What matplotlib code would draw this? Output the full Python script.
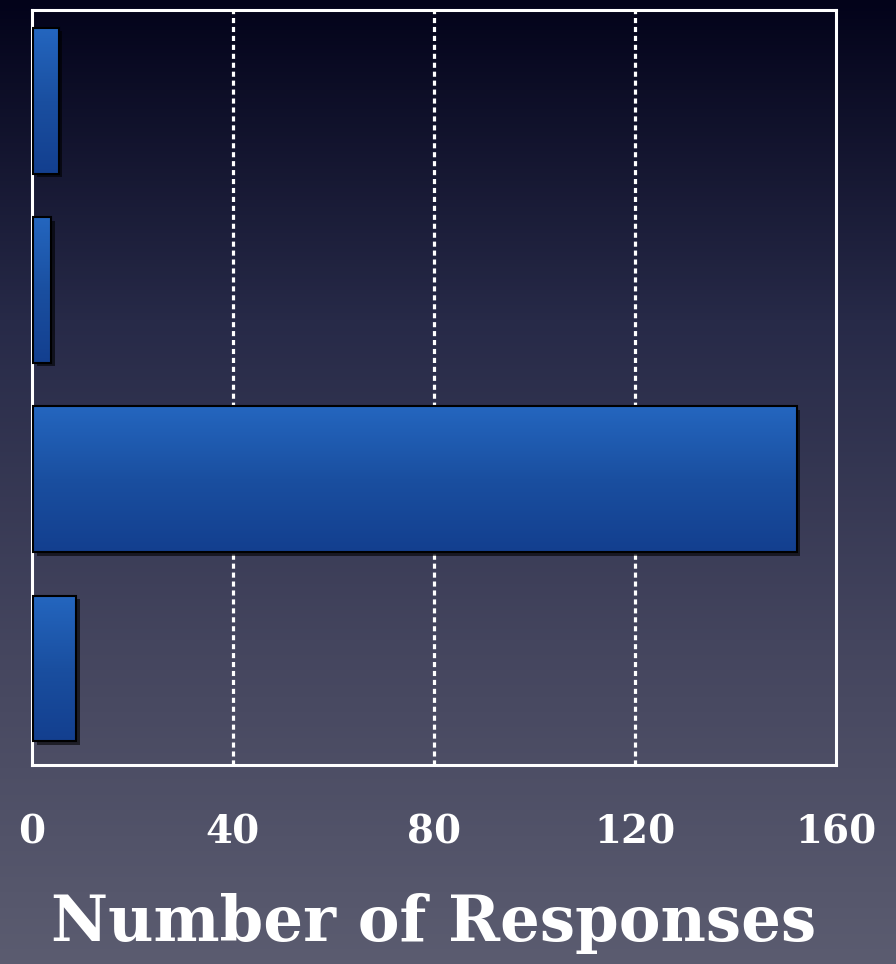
import numpy as np
import matplotlib
matplotlib.use("Agg")
import matplotlib.pyplot as plt
from matplotlib import patheffects as pe
from matplotlib.colors import LinearSegmentedColormap

# data (top to bottom)
categories = ["A", "B", "C", "D"]
responses = [5, 3.5, 152, 8.5]
xticks = [0, 40, 80, 120, 160]
xlabel = "Number of Responses"

font = "DejaVu Serif"

fig = plt.figure(figsize=(8.96, 9.64), dpi=100)

# background gradient over the whole figure
bg = fig.add_axes([0, 0, 1, 1], zorder=-10)
bg_cmap = LinearSegmentedColormap.from_list("bg", ["#03031a", "#272a48", "#44455e", "#5b5c70"])
bg.imshow(np.linspace(0, 1, 256).reshape(-1, 1), cmap=bg_cmap, aspect="auto",
          extent=[0, 1, 0, 1], origin="upper")
bg.set_axis_off()

ax = fig.add_axes([0.0357, 0.2064, 0.897, 0.7833])
ax.patch.set_alpha(0)

ypos = np.arange(len(categories))
bar_cmap = LinearSegmentedColormap.from_list("bar", ["#2466bf", "#1a4fa0", "#133f8f"])

shadow = [pe.SimplePatchShadow(offset=(2.5, -2.5), shadow_rgbFace="black", alpha=0.6), pe.Normal()]
bars = ax.barh(ypos, responses, left=0.3, height=0.77, color="#1c52a5", edgecolor="none",
               zorder=3, path_effects=shadow)

# gradient fill inside each bar
for b in bars:
    x0, y0 = b.get_x(), b.get_y()
    w, h = b.get_width(), b.get_height()
    im = ax.imshow(np.linspace(0, 1, 128).reshape(-1, 1), cmap=bar_cmap, aspect="auto",
                   extent=[x0, x0 + w, y0 + h, y0], origin="upper", zorder=4)
    im.set_clip_path(b)

ax.barh(ypos, responses, left=0.3, height=0.77, facecolor="none", edgecolor="black",
        lw=1.5, zorder=5)

ax.set_xlim(0, 160)
ax.set_ylim(3.51, -0.48)
ax.set_xticks(xticks)
ax.set_yticks([])

for x in xticks[1:-1]:
    ax.axvline(x, color="white", lw=2.3, ls=(0, (1.6, 1.2)), zorder=1)

for s in ax.spines.values():
    s.set_color("white")
    s.set_linewidth(2.2)

ax.tick_params(axis="x", length=0, pad=35, colors="white")
for lab in ax.get_xticklabels():
    lab.set_fontfamily(font)
    lab.set_fontweight("bold")
    lab.set_fontsize(28)

ax.set_xlabel(xlabel, color="white", fontsize=45, fontfamily=font,
              fontweight="bold", labelpad=30)

fig.savefig("out.png", dpi=100)
